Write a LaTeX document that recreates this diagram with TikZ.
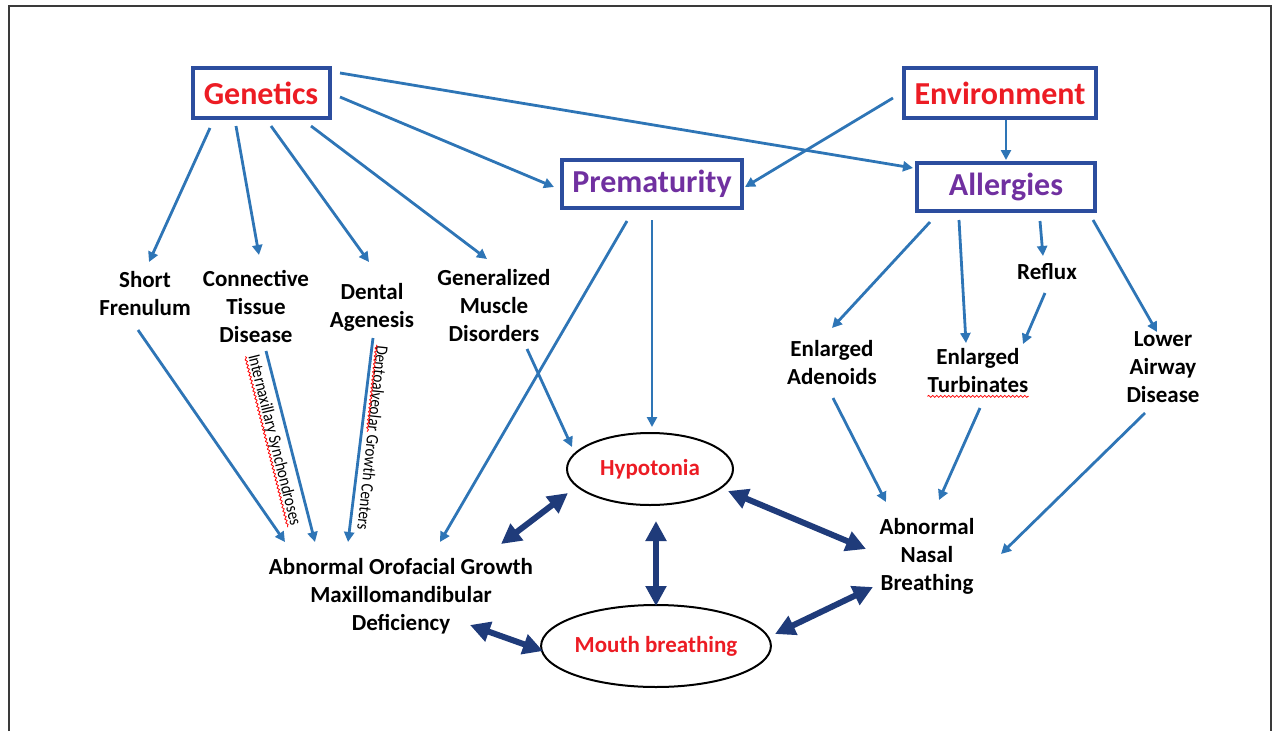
\documentclass[tikz,border=0pt]{standalone}
\usepackage{fontspec}
\setmainfont{Carlito}
\newfontfamily\narrowcarlito[FakeStretch=0.86]{Carlito}
\usetikzlibrary{arrows.meta,shapes.geometric,decorations.pathmorphing,calc}
\definecolor{linkblue}{HTML}{2E75B6}
\definecolor{boxblue}{HTML}{2C4D9E}
\definecolor{navyblue}{HTML}{1F3B7A}
\definecolor{titlered}{HTML}{EC1C24}
\definecolor{titlepurple}{HTML}{7030A0}
\definecolor{framegray}{HTML}{3A3A3A}
\tikzset{
  causebox/.style={draw=boxblue, line width=4pt, inner sep=0pt, font=\fontsize{32}{38}\selectfont\bfseries},
  factor/.style={align=center, inner sep=0pt, font=\fontsize{23}{28}\selectfont\bfseries},
  symptom/.style={ellipse, draw=black, line width=2pt, inner sep=0pt, text=titlered, font=\fontsize{23}{28}\selectfont\bfseries},
  growthnote/.style={inner sep=0pt, font=\narrowcarlito\fontsize{17.5}{20}\selectfont},
  link/.style={draw=linkblue, line width=2.8pt, -{Triangle[length=10pt,width=10pt]}},
  feedback/.style={draw=navyblue, line width=6pt, {Triangle[length=20pt,width=20pt]}-{Triangle[length=20pt,width=20pt]}},
  wavy/.style={draw=red, line width=0.8pt, decorate, decoration={snake, amplitude=1pt, segment length=4pt}}
}
\begin{document}
\begin{tikzpicture}[x=1pt, y=-1pt]
  \useasboundingbox (0,0) rectangle (1274,731);
  \draw[framegray, line width=2pt] (9,731) -- (9,5.5) -- (1270.5,5.5) -- (1270.5,731);

  \node[causebox, text=titlered, minimum width=137pt, minimum height=50pt] (gen) at (261,93) {Genetics};
  \node[causebox, text=titlered, minimum width=192pt, minimum height=50pt] (env) at (1000,93) {Environment};
  \node[causebox, text=titlepurple, minimum width=180pt, minimum height=48pt] (pre) at (652,184) {Prematurity};
  \node[causebox, text=titlepurple, minimum width=178pt, minimum height=48pt] (all) at (1006,187) {Allergies};

  \node[factor] (sf) at (145,294) {Short\\Frenulum};
  \node[factor] (ctd) at (256,306) {Connective\\Tissue\\Disease};
  \node[factor] (dag) at (372,307) {Dental\\Agenesis};
  \node[factor] (gmd) at (494,306) {Generalized\\Muscle\\Disorders};
  \node[factor] (ead) at (832,363) {Enlarged\\Adenoids};
  \node[factor] (etu) at (978,371) {Enlarged\\Turbinates};
  \node[factor] (ref) at (1047,272) {Reflux};
  \node[factor] (lad) at (1163,367) {Lower\\Airway\\Disease};
  \node[factor] (anb) at (927,556) {Abnormal\\Nasal\\Breathing};
  \node[factor] (aog) at (401,596) {Abnormal Orofacial Growth\\Maxillomandibular\\Deficiency};

  \node[symptom, minimum width=166pt, minimum height=72pt] (hypo) at (650,469) {Hypotonia};
  \node[symptom, minimum width=220pt, minimum height=82pt] (mouth) at (656,646) {Mouth breathing};

  \node[growthnote, rotate=-76] (int) at (274,440) {Internaxillary Synchondroses};
  \node[growthnote, rotate=-96] (dgc) at (373,438) {Dentoalveolar Growth Centers};
  \draw[wavy] (int.south west) -- (int.south east);
  \draw[wavy] (dgc.south west) -- ($(dgc.south west)!0.47!(dgc.south east)$);
  \draw[wavy] ([yshift=-3pt]etu.south west) -- ([yshift=-3pt]etu.south east);

  \draw[link] ([shift={(-51,35)}]gen.center) -- ([shift={(4,-32)}]sf.center);
  \draw[link] ([shift={(-25,33)}]gen.center) -- ([shift={(3,-51)}]ctd.center);
  \draw[link] ([shift={(10,33)}]gen.center) -- ([shift={(-3,-45)}]dag.center);
  \draw[link] ([shift={(50,33)}]gen.center) -- ([shift={(-7,-47)}]gmd.center);
  \draw[link] ([shift={(79,4)}]gen.center) -- ([shift={(-98,3)}]pre.center);
  \draw[link] ([shift={(79,-20)}]gen.center) -- ([shift={(-93,-19)}]all.center);
  \draw[link] ([shift={(-107,5)}]env.center) -- ([shift={(93,3)}]pre.center);
  \draw[link] ([shift={(6,27)}]env.center) -- ([shift={(0,-27)}]all.center);
  \draw[link] ([shift={(-25,37)}]pre.center) -- ([shift={(39,-54)}]aog.center);
  \draw[link] ([shift={(0,36)}]pre.center) -- ([shift={(2,-42)}]hypo.center);
  \draw[link] ([shift={(-76,35)}]all.center) -- ([shift={(0,-35)}]ead.center);
  \draw[link] ([shift={(-47,33)}]all.center) -- ([shift={(-12,-28)}]etu.center);
  \draw[link] ([shift={(34,34)}]all.center) -- ([shift={(-4,-16)}]ref.center);
  \draw[link] ([shift={(87,33)}]all.center) -- ([shift={(-6,-35)}]lad.center);
  \draw[link] ([shift={(-2,21)}]ref.center) -- ([shift={(45,-27)}]etu.center);
  \draw[link] ([shift={(-7,36)}]sf.center) -- ([shift={(-116,-54)}]aog.center);
  \draw[link] ([shift={(10,45)}]ctd.center) -- ([shift={(-86,-54)}]aog.center);
  \draw[link] ([shift={(1,31)}]dag.center) -- ([shift={(-53,-54)}]aog.center);
  \draw[link] ([shift={(33,43)}]gmd.center) -- ([shift={(-78,-22)}]hypo.center);
  \draw[link] ([shift={(1,35)}]ead.center) -- ([shift={(-41,-54)}]anb.center);
  \draw[link] ([shift={(2,37)}]etu.center) -- ([shift={(12,-56)}]anb.center);
  \draw[link] ([shift={(-18,46)}]lad.center) -- ([shift={(74,-2)}]anb.center);

  \draw[feedback] ([shift={(100,-52)}]aog.center) -- ([shift={(-82,24)}]hypo.center);
  \draw[feedback] ([shift={(6,52)}]hypo.center) -- ([shift={(0,-40)}]mouth.center);
  \draw[feedback] ([shift={(78,22)}]hypo.center) -- ([shift={(-61,-7)}]anb.center);
  \draw[feedback] ([shift={(69,29)}]aog.center) -- ([shift={(-113,5)}]mouth.center);
  \draw[feedback] ([shift={(119,-12)}]mouth.center) -- ([shift={(-54,31)}]anb.center);
\end{tikzpicture}
\end{document}
